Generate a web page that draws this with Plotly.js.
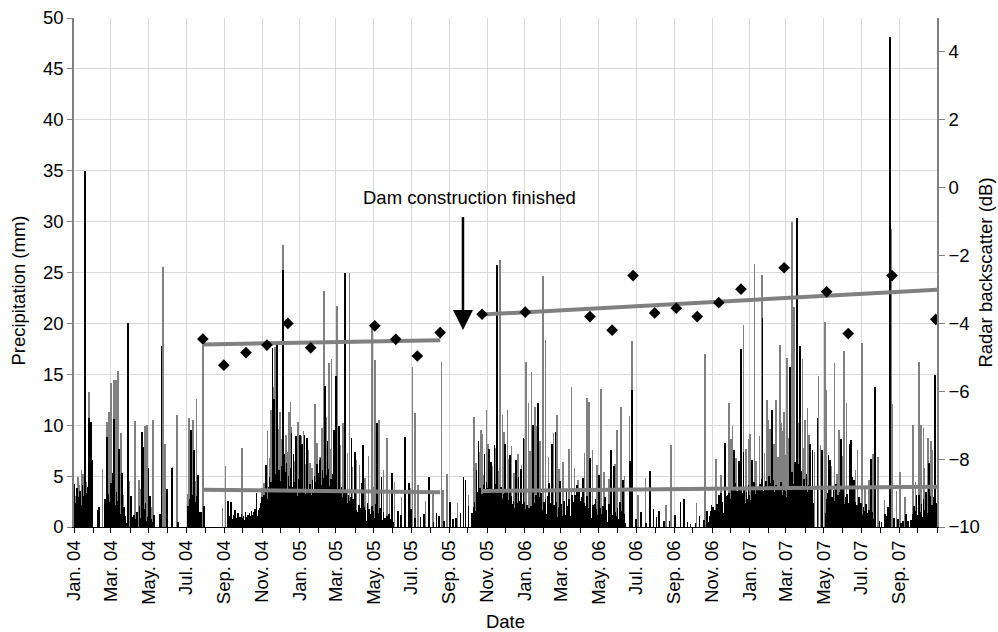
<!DOCTYPE html>
<html>
<head>
<meta charset="utf-8">
<script src="https://cdn.plot.ly/plotly-3.0.1.min.js"></script>
<style>html,body{margin:0;padding:0;background:#fff}#chart{width:998px;height:632px}</style>
</head>
<body>
<div id="chart"></div>
<script>
// Day index counted from 1 Jan 2004
const tickDates = ['2004-01-01','2004-03-01','2004-05-01','2004-07-01','2004-09-01','2004-11-01',
  '2005-01-01','2005-03-01','2005-05-01','2005-07-01','2005-09-01','2005-11-01',
  '2006-01-01','2006-03-01','2006-05-01','2006-07-01','2006-09-01','2006-11-01',
  '2007-01-01','2007-03-01','2007-05-01','2007-07-01','2007-09-01'];
const tickLabels = ['Jan. 04','Mar. 04','May. 04','Jul. 04','Sep. 04','Nov. 04',
  'Jan. 05','Mar. 05','May. 05','Jul. 05','Sep. 05','Nov. 05',
  'Jan. 06','Mar. 06','May. 06','Jul. 06','Sep. 06','Nov. 06',
  'Jan. 07','Mar. 07','May. 07','Jul. 07','Sep. 07'];

// Gray precipitation bars (day index, mm)
const grayDay = [3,6,9,12,15,20,24,27,46,54,
 57,58,60,63,65,68,71,76,80,90,
 99,100,105,108,115,118,125,128,144,148,
 160,167,185,187,193,197,199,209,241,246,
 273,305,308,312,314,318,320,324,326,327,
 331,333,334,337,339,342,344,346,349,351,
 352,357,363,365,369,372,376,380,383,386,
 391,394,399,402,406,409,414,416,418,421,
 427,432,436,439,444,447,452,458,463,472,
 478,483,486,488,495,502,508,512,520,531,
 545,549,553,558,570,582,596,599,605,622,
 640,649,652,658,660,663,664,669,672,678,
 684,689,691,695,698,703,705,710,714,720,
 726,731,733,737,740,742,746,748,751,756,
 761,765,770,778,784,787,793,803,807,812,
 818,828,832,835,841,848,855,860,868,878,
 881,887,893,901,905,915,927,935,960,968,
 990,1010,1024,1041,1050,1055,1063,1066,1068,1074,
 1086,1090,1094,1097,1104,1106,1112,1116,1120,1124,
 1126,1129,1136,1139,1142,1145,1147,1150,1152,1155,
 1157,1160,1165,1168,1176,1182,1183,1186,1190,1192,
 1201,1208,1211,1218,1221,1229,1234,1238,1241,1246,
 1249,1253,1262,1268,1271,1278,1283,1290,1296,1304,
 1315,1326,1328,1334,1340,1348,1361,1365,1371,1374,
 1378,1380,1385,1389,1390,1393,1396];
const grayMm = [3.0,4.9,4.1,5.6,5.2,4.4,13.3,3.6,5.7,10.3,
 11.3,6.3,14.1,4.8,14.4,14.4,15.3,9.2,3.1,4.5,
 10.4,2.4,4.6,3.7,9.9,10.0,2.0,10.5,25.5,8.2,
 5.9,11.0,3.2,10.7,10.5,4.5,12.6,17.9,1.9,6.0,
 7.8,3.8,4.3,5.5,9.4,6.8,11.5,13.8,17.7,7.9,
 9.6,5.2,11.3,8.6,27.7,6.1,9.0,7.4,11.3,12.3,
 9.8,6.5,10.3,7.1,8.9,9.4,6.2,7.6,6.3,5.8,
 12.1,8.3,6.9,9.7,23.2,10.8,16.1,7.7,16.5,9.0,
 21.7,8.1,10.2,6.4,7.3,25.0,5.9,6.6,6.1,4.8,
 7.0,20.0,3.9,16.4,10.5,5.6,8.7,3.2,4.4,2.9,
 3.8,15.7,11.2,4.1,2.6,3.5,16.2,3.6,5.2,2.4,
 3.1,10.8,6.3,7.4,9.5,9.1,5.1,11.5,8.2,6.0,
 7.8,5.5,26.2,11.0,9.3,11.5,6.7,8.0,5.3,7.2,
 6.1,8.6,16.2,12.2,7.5,15.2,6.3,11.8,9.9,8.4,
 24.7,18.4,6.9,9.2,11.0,5.7,6.4,7.7,13.8,5.8,
 4.6,7.3,12.7,12.3,7.6,6.1,13.6,5.4,4.7,6.2,
 9.5,11.8,5.0,10.9,18.3,3.1,4.8,2.8,2.2,8.1,
 1.6,2.4,17.0,6.7,5.1,4.3,12.2,8.6,9.9,6.8,
 19.8,7.7,8.6,9.1,25.8,6.5,8.9,24.8,7.3,12.5,
 10.5,9.6,8.2,12.5,6.9,17.9,10.2,9.4,11.3,7.1,
 16.6,8.7,30.0,21.6,10.2,16.5,7.8,10.5,11.7,9.0,
 7.4,14.8,8.1,20.1,13.5,6.0,16.1,5.2,9.5,7.0,
 17.3,12.2,4.9,5.6,7.6,18.1,3.8,4.6,7.2,6.9,
 2.7,29.3,12.1,3.5,5.4,2.9,10.0,4.4,16.2,10.0,
 9.7,5.8,8.7,6.1,8.4,7.6,5.0];

// Black precipitation bars, isolated days (day index, mm)
const blackDay = [0,17,18,24,28,30,38,41,50,54,
 63,65,73,78,88,92,95,110,112,121,
 123,140,142,151,159,169,190,195,201,204,
 211,250,255,261,267,296,303,311,317,322,
 324,329,339,341,353,356,360,367,370,374,
 378,398,407,411,422,425,430,440,450,456,
 467,469,476,492,499,516,526,530,537,543,
 547,553,562,568,576,583,588,592,600,610,
 615,620,627,632,635,640,653,656,666,673,
 676,682,686,699,707,717,721,725,729,745,
 753,771,775,781,788,799,813,816,821,826,
 837,845,852,871,876,891,902,905,912,920,
 928,934,940,945,949,957,966,975,984,990,
 995,1000,1008,1015,1022,1027,1034,1046,1050,1056,
 1060,1071,1079,1082,1086,1100,1109,1117,1121,1132,
 1133,1162,1170,1173,1178,1194,1198,1206,1213,1224,
 1226,1244,1258,1260,1263,1265,1285,1293,1299,1307,
 1310,1316,1318,1321,1324,1330,1337,1342,1345,1350,
 1353,1358,1367,1382,1387,1397];
const blackMm = [4.2,31.4,35.0,10.7,10.3,6.6,1.7,2.0,2.8,8.8,
 5.3,10.6,7.7,5.3,20.0,3.0,1.0,9.3,7.9,5.8,
 3.0,1.3,17.8,3.7,5.8,0.5,9.5,7.6,5.1,1.5,
 2.1,2.6,2.5,1.7,1.0,3.3,1.8,6.1,4.9,17.6,
 12.6,17.9,25.2,7.2,9.2,7.2,8.9,9.0,8.2,9.0,
 8.7,6.6,13.9,8.4,9.5,14.8,9.9,25.0,8.7,7.4,
 4.3,8.1,2.3,10.2,4.9,5.3,1.6,1.2,8.8,4.3,
 1.8,0.9,1.0,1.3,4.9,0.5,1.4,1.1,0.6,2.5,
 0.8,0.9,1.4,4.9,4.6,2.1,5.6,8.4,7.2,7.7,
 6.4,8.1,25.7,8.2,7.1,6.6,4.9,5.7,8.7,10.0,
 12.2,4.3,8.2,9.3,4.5,3.5,3.1,4.1,2.6,4.8,
 6.8,2.3,5.1,7.6,6.0,4.6,6.5,13.5,0.8,1.5,
 0.4,5.5,1.8,1.0,1.6,0.6,0.6,1.2,2.5,2.8,
 0.5,0.3,0.4,1.1,0.7,1.6,2.2,3.1,3.3,8.3,
 3.1,7.6,6.5,17.5,7.4,6.6,2.2,20.5,2.8,11.5,
 6.6,15.7,6.4,30.4,17.8,8.2,7.6,10.7,7.6,7.1,
 6.6,8.6,8.2,8.5,4.9,4.6,1.5,6.7,13.8,0.6,
 0.5,1.3,1.1,2.0,48.1,0.9,0.8,0.4,0.6,1.3,
 0.6,0.7,3.1,3.3,6.3,14.9];

// Black precipitation bars, runs of consecutive days (first day index, daily mm)
const blackRunStart = [0,52,95,183,250,300,380,460,645,745,1030,1220,1360];
const blackRunMm = [
 [1.8,3.2,2.4,0.6,1.1,3.8,2.9,1.4,0.3,2.6,3.5,1.9,0.8,2.2,4.1,3.0,1.6,2.8,0.9,3.3,2.5,1.2,0.4,3.9,2.0,1.5,0,2.7,1.1,0.5,0],
 [0.8,2.1,0,1.4,3.2,2.5,0.6,1.9,4.3,3.1,1.2,2.8,0,3.6,4.8,2.2,1.0,3.4,2.6,0.5,1.7,4.0,2.9,1.3,0,2.3,3.8,1.6,0.7,2.0,0,1.1,0.4],
 [0,0.6,1.2,0,0,0.8,0,1.5,0.4,0,0,2.1,0.9,0,0.5,1.3,0,0,0.7,0,1.8,2.4,0.6,0,0,1.0,0.3,0,0,1.6,0.8,0,0.5,0,0,1.2],
 [0,0.9,2.1,1.4,0,2.8,1.7,0.5,3.1,2.2,0,1.3,0.6,2.5,1.9,0,0.8,3.0,2.0,0,1.1,0.4,0,1.5,0.7,0],
 [0,0.5,0,1.1,0.3,0,0,0.8,0.6,0,1.2,0,0.4,0.9,0,0.7,1.4,0.5,0,1.0,0.8,0.3,1.3,0.6,0.9,1.1,0.4,0.7,1.5,0.8,1.0,0.6,1.2,0.9,0.5,1.4,1.1,0.7,1.6,0.9,1.2,0.8,1.5,1.0,1.8,0.7,1.3,1.1,0.6,1.7],
 [1.2,1.9,0.8,2.4,1.5,2.9,1.1,2.2,3.1,1.7,2.6,0.9,3.4,2.0,1.4,2.8,3.9,2.3,1.6,3.2,4.4,2.7,1.9,3.6,2.5,4.8,3.0,2.1,5.2,3.7,2.4,4.1,3.3,5.6,2.8,4.5,3.1,6.0,3.8,2.6,4.9,3.5,5.4,2.9,4.2,6.3,3.6,2.4,5.0,4.0,3.2,5.8,2.7,4.6,3.9,2.2,5.1,3.4,4.4,2.6,3.8,5.5,3.0,2.3,4.7,3.5,2.8,4.1,3.3,1.9,4.5,2.9,3.6,2.1,4.0,3.2,2.5,3.7,1.8,3.0],
 [2.4,3.6,1.9,4.2,2.8,3.1,1.5,4.6,3.3,2.2,5.0,3.8,2.6,4.4,6.2,3.0,5.3,2.7,4.9,3.5,6.8,4.1,2.9,5.6,3.7,4.8,2.3,6.0,3.9,5.1,2.8,4.3,3.4,5.7,2.5,4.0,3.2,4.7,2.1,3.8,5.2,2.9,3.5,4.4,2.6,3.1,4.6,2.0,3.7,2.8,4.1,1.9,3.3,2.5,3.9,1.7,2.9,3.6,2.2,3.0,1.5,2.7,3.4,1.8,2.4,3.1,1.3,2.6,2.0,2.9,1.6,2.3,1.1,2.8,1.9,1.4,2.2,0.9,1.7,1.2],
 [1.5,0,2.2,0.8,1.9,0,1.1,2.6,0.5,1.4,0,2.0,0.9,1.7,0,0.6,2.4,1.2,0,1.8,0.4,0,1.3,2.1,0.7,0,1.6,0.9,0,1.0,2.3,0,0.5,1.4,0,0.8,1.9,0,0.3,1.2,0,0.7,1.5,0,0,0.9,0.4,0,1.1,0,0.6,1.3,0,0,0.8,0.2,0,1.0,0.5,0],
 [0.5,1.4,0.7,2.0,1.1,2.5,1.6,1.0,2.9,1.9,3.4,1.4,2.4,2.1,3.8,2.6,1.5,3.2,2.2,4.1,2.8,1.8,3.5,2.4,4.4,2.2,3.1,3.8,1.8,2.9,4.0,2.3,3.4,2.6,1.6,3.7,3.0,2.0,4.2,2.7,2.2,3.3,2.5,1.5,3.6,3.0,1.9,2.6,3.9,2.1,2.8,1.7,3.2,2.4,1.4,3.0,2.2,3.4,1.8,2.5,1.3,2.7,2.0,1.5,3.0,1.8,2.3,1.2,2.6,1.9,1.4,2.2,2.9,1.6,1.1,2.4,1.8,1.4,2.1,2.6,1.2,1.7,2.3,1.0,2.0,1.5,2.5,1.3,1.8,0.8,2.2,1.4,1.0,1.9,0.9,1.6,2.1,1.1,0.7,1.5],
 [1.6,2.4,0.8,1.9,3.1,1.2,2.6,0.5,1.8,2.9,1.4,0.7,2.2,3.3,1.0,1.7,0.4,2.5,1.9,0.9,2.8,1.3,0.6,2.1,3.0,1.5,0.8,1.9,2.4,0.5,1.1,2.7,1.6,0.9,2.2,1.4,0.3,1.8,2.5,1.0,0.6,2.0,1.3,2.9,1.7,0.8,2.3,1.1,0.4,1.6,2.6,1.9,0.7,1.2,3.4,2.1,1.5,0.9,2.8,1.8,1.1,0.5,2.2,3.1,1.6,0.8,2.5,1.3,0,1.9,2.7,1.0,0.6,2.0,3.6,2.3,1.4,0.7,1.8,2.9,1.2,0.4,2.4,1.7,0,1.1,2.1,3.0,1.5,0.8,1.9,0.3,1.3,2.6,0.9,0,1.6,2.2,1.0,0.5,1.4,2.8,1.8,0.7,0,1.2,2.4,1.5,0.6,1.9,0.9,0,1.3,2.1,0.8,1.6,2.9,1.1,0.4,1.7,0.5,0,1.0,2.3,1.4,0.7,1.8,0.3,0,1.2,2.0,0.9,0.4,1.5,0.6,0,1.1,1.9,0.8,0,1.4,2.5,1.0,0.5,1.6,0.2,0,0.9,1.3,0.4],
 [0.5,1.1,0,1.6,0.8,0,1.3,2.0,0.6,0.9,1.7,0,1.2,2.3,0.8,1.6,0,1.4,2.1,1.0,1.8,0.6,2.5,1.4,0.9,2.2,2.8,1.5,0.7,3.0,1.9,2.6,1.2,3.3,2.0,2.8,1.4,3.6,2.2,1.6,3.9,2.5,1.8,4.3,2.9,1.9,3.5,2.3,4.6,2.7,1.5,3.8,2.2,4.0,1.9,3.3,2.6,1.7,3.9,2.4,2.0,3.4,2.8,1.6,4.1,2.1,3.1,1.8,2.7,3.7,1.4,3.0,2.3,4.4,1.9,3.2,2.6,1.7,3.6,2.4,3.9,2.9,2.0,4.2,3.2,2.5,4.7,2.1,3.5,2.7,4.0,3.3,2.2,4.5,3.0,3.8,2.4,5.0,3.1,2.6,4.3,3.7,2.3,4.0,2.8,4.6,2.0,3.4,2.9,4.1,2.5,3.6,1.9,3.0,3.9,2.1,3.3,4.4,2.7,1.8,3.1,2.4,4.0,2.0,3.5,2.2,2.9,1.6,3.7,2.6,1.9,3.2,4.8,2.8,3.9,5.4,3.4,4.2,3.0,5.8,3.8,4.5,2.7,5.1,3.5,4.9,6.2,3.9,4.3,2.9,5.5,3.2,4.0,2.5,4.7,3.6,2.2,3.9,5.2,2.8,3.4,2.0,4.1,2.7,3.1,1.7,2.9,3.6,1.5,2.4],
 [1.4,2.8,0.9,3.3,1.8,2.5,0.6,3.9,2.2,1.3,2.9,0.8,3.6,1.9,2.6,1.1,4.2,2.4,0.7,3.1,1.6,2.8,0.5,3.4,2.0,1.2,2.7,0.9,3.8,2.3,1.5,0.4,2.9,1.7,3.2,1.0,2.4,0.6,1.9,3.5,2.1,0.8,2.6,1.4,3.0,0.5,1.8,2.5,1.1,0.3,2.2,1.5,0.7,2.9,1.3,0,1.9,2.4,0.8,1.2,0.4,2.0,1.6,0,1.0,2.3,0.6,1.4,0,0.9,1.7,0.3,1.1,0,0.6,1.5,0,0.8,0.4,0],
 [0.5,1.3,0,2.1,0.8,1.6,0,2.7,1.2,0.4,1.9,3.1,0.9,1.5,0,2.3,1.0,0.6,2.8,1.7,0,1.1,3.4,2.0,0.7,1.4,2.6,0.3,1.8,3.0,1.2,0.5,2.2,1.6,0.9,2.9,1.3,3.6,2.4,1.0]
];

// Radar backscatter observations (day index, dB)
const bsDay = [209,243,279,313,347,384,488,522,557,594,
 662,732,837,873,907,942,977,1011,1046,1082,1152,1221,1256,1327,1398];
const bsDb = [-4.46,-5.23,-4.86,-4.64,-4.00,-4.72,-4.07,-4.47,-4.96,-4.27,
 -3.73,-3.67,-3.80,-4.20,-2.59,-3.69,-3.55,-3.80,-3.39,-2.99,-2.36,-3.07,-4.30,-2.59,-3.88];

// Linear trend segments (before / after dam): endpoints
const trendDay = [[209,594],[662,1400]];
const trendBs = [[-4.62,-4.50],[-3.74,-3.01]];
const trendPrecip = [[3.66,3.41],[3.54,3.96]];

const annotText = 'Dam construction finished';
const annotDay = 631, annotTextDay = 641;
const annotTip = 19.35, annotTail = 30.6, annotTextY = 32.4;
const leftTitle = 'Precipitation (mm)';

const DAY = 86400000, T0 = Date.UTC(2004,0,1);
const toDate = d => new Date(T0 + d*DAY).toISOString().slice(0,10);

let bx = [], by = [];
blackRunStart.forEach((s,i) => blackRunMm[i].forEach((v,j) => { if (v > 0) { bx.push(toDate(s+j)); by.push(v); } }));
let px = [], py = [];
blackDay.forEach((d,i) => { px.push(toDate(d)); py.push(blackMm[i]); });

const traces = [
  {type:'bar', x: grayDay.map(toDate), y: grayMm, width: DAY*1.0,
   marker:{color:'#808080', line:{width:0}}, showlegend:false},
  {type:'bar', x: bx, y: by, width: DAY*1.0,
   marker:{color:'#000000', line:{width:0}}, showlegend:false},
  {type:'bar', x: px, y: py, width: DAY*1.0,
   marker:{color:'#000000', line:{width:0}}, showlegend:false}
];
trendDay.forEach((seg,i) => {
  traces.push({type:'scatter', mode:'lines', x: seg.map(toDate), y: trendPrecip[i],
    line:{color:'#808080', width:4}, showlegend:false});
  traces.push({type:'scatter', mode:'lines', x: seg.map(toDate), y: trendBs[i], yaxis:'y2',
    line:{color:'#808080', width:4}, showlegend:false});
});
traces.push({type:'scatter', mode:'markers', x: bsDay.map(toDate), y: bsDb, yaxis:'y2',
  marker:{symbol:'diamond', size:9, color:'#000'}, showlegend:false});

const fam = '"Liberation Sans", Arial, sans-serif';
const tickFont = {family:fam, size:18.5, color:'#000'};
const titleFont = {family:fam, size:18.5, color:'#000'};
const layout = {
  width:998, height:632,
  margin:{l:74, r:61, t:18, b:105},
  paper_bgcolor:'#fff', plot_bgcolor:'#fff',
  font: titleFont,
  barmode:'overlay', bargap:0,
  hovermode:false,
  xaxis:{type:'date', range:['2004-01-01','2007-11-01'],
    tickmode:'array', tickvals: tickDates, ticktext: tickLabels, tickangle:-90,
    ticks:'outside', ticklen:5, tickcolor:'#000', tickfont:tickFont,
    showgrid:true, gridcolor:'#d9d9d9', gridwidth:1,
    showline:true, linecolor:'#000', linewidth:1, zeroline:false,
    minor:{tickmode:'linear', tick0:'2004-01-01', dtick:'M1', ticks:'outside', ticklen:5, tickcolor:'#000', showgrid:false},
    title:{text:'Date', font:titleFont, standoff:12}},
  yaxis:{range:[0,50], tickmode:'linear', tick0:0, dtick:5,
    ticks:'outside', ticklen:5, tickcolor:'#808080', tickfont:tickFont,
    showgrid:true, gridcolor:'#d9d9d9', gridwidth:1,
    showline:true, linecolor:'#808080', linewidth:1.5, zeroline:false},
  yaxis2:{overlaying:'y', side:'right', range:[-10,5], tickmode:'linear', tick0:-10, dtick:2,
    ticks:'outside', ticklen:6, tickcolor:'#808080', tickfont:tickFont,
    showgrid:false, showline:true, linecolor:'#808080', linewidth:1.5, zeroline:false,
    title:{text:'Radar backscatter (dB)', font:titleFont, standoff:0}},
  annotations:[
    {x: toDate(annotDay), y: annotTip, ax: toDate(annotDay), ay: annotTail, xref:'x', yref:'y', axref:'x', ayref:'y',
     text:'', showarrow:true, arrowhead:2, arrowsize:1.6, arrowwidth:2.5, arrowcolor:'#000'},
    {x: toDate(annotTextDay), y: annotTextY, xref:'x', yref:'y', text: annotText, showarrow:false, font:titleFont},
    {x: -0.064, y: 0.464, xref:'paper', yref:'paper', text: leftTitle, textangle:-90, showarrow:false,
     xanchor:'center', yanchor:'middle', font:titleFont}
  ]
};
Plotly.newPlot('chart', traces, layout, {displayModeBar:false});
</script>
</body>
</html>
